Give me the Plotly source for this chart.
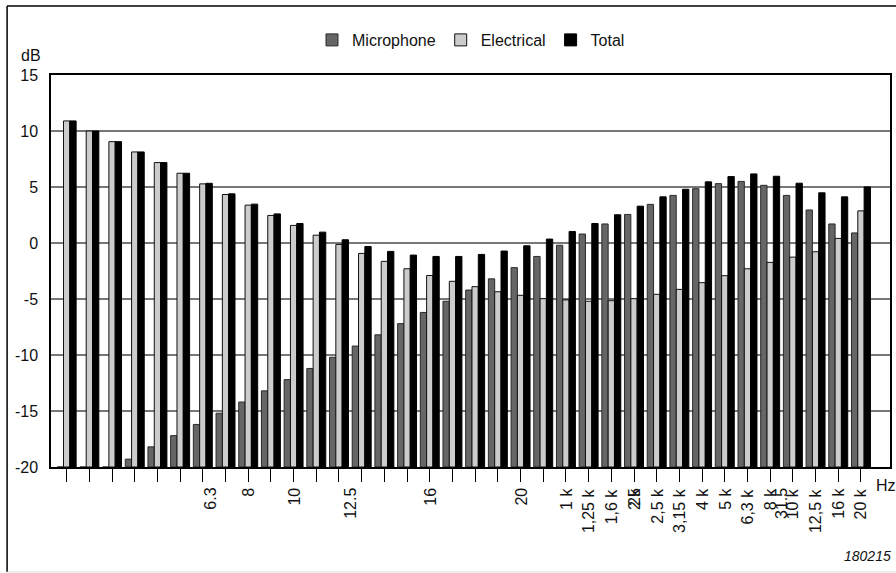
import plotly.graph_objects as go

freq_labels = ["6.3", "8", "10", "12.5", "16", "20", "25", "31.5", "40", "50", "63", "80",
               "100", "125", "160", "200", "250", "315", "400", "500", "630", "800",
               "1 k", "1,25 k", "1,6 k", "2 k", "2,5 k", "3,15 k", "4 k", "5 k", "6,3 k",
               "8 k", "10 k", "12,5 k", "16 k", "20 k"]

microphone = [-20, -20, -20, -19.3, -18.2, -17.2, -16.2, -15.2, -14.2, -13.2, -12.2, -11.2,
              -10.2, -9.2, -8.2, -7.2, -6.2, -5.2, -4.2, -3.2, -2.2, -1.2,
              -0.2, 0.8, 1.7, 2.55, 3.45, 4.25, 4.85, 5.3, 5.5,
              5.15, 4.25, 2.95, 1.7, 0.9]

electrical = [10.9, 10.0, 9.05, 8.13, 7.18, 6.23, 5.28, 4.33, 3.38, 2.46, 1.57, 0.7,
              -0.13, -0.93, -1.64, -2.3, -2.9, -3.42, -3.9, -4.35, -4.67, -4.97,
              -5.08, -5.2, -5.15, -4.97, -4.58, -4.14, -3.54, -2.92, -2.3,
              -1.73, -1.26, -0.78, 0.41, 2.87]

total = [10.9, 10.0, 9.05, 8.13, 7.18, 6.23, 5.33, 4.39, 3.47, 2.6, 1.74, 0.97,
         0.29, -0.31, -0.75, -1.08, -1.2, -1.2, -1.02, -0.72, -0.25, 0.35,
         1.03, 1.74, 2.52, 3.29, 4.12, 4.8, 5.46, 5.93, 6.17,
         5.96, 5.34, 4.48, 4.12, 5.01]

y_floor = -20
y_top = 15
y_ticks = [15, 10, 5, 0, -5, -10, -15, -20]

FONT = "Arial, Liberation Sans, sans-serif"

series = [
    ("Microphone", microphone, "#666666", "#2a2a2a"),
    ("Electrical", electrical, "#cccccc", "#111111"),
    ("Total", total, "#000000", "#000000"),
]

fig = go.Figure()
for name, vals, fill, edge in series:
    fig.add_trace(go.Bar(
        name=name,
        x=freq_labels,
        y=[v - y_floor for v in vals],
        base=y_floor,
        marker=dict(color=fill, line=dict(color=edge, width=1)),
        hovertext=[f"{v} dB" for v in vals],
    ))

W, H = 896, 573
L, R, T, B = 51, 4, 75, 106
pw, ph = W - L - R, H - T - B

def px_x(x):
    return (x - L) / pw

def px_y(y):
    return (H - B - y) / ph

# x tick labels, placed on the category axis, top end aligned just below the ticks
tick_label_annotations = [
    dict(text=lab, xref="x", x=lab, yref="paper", y=px_y(487), xanchor="center", yanchor="top",
         textangle=-90, showarrow=False, font=dict(size=16), borderpad=0)
    for lab in freq_labels
]

fig.update_layout(
    width=W, height=H,
    margin=dict(l=L, r=R, t=T, b=B, pad=0),
    paper_bgcolor="white", plot_bgcolor="white",
    barmode="group", bargap=0.165, bargroupgap=0,
    font=dict(family=FONT, size=16, color="#111111"),
    legend=dict(orientation="h", x=px_x(472), xanchor="center", y=px_y(40), yanchor="middle",
                font=dict(size=16), itemwidth=30, traceorder="normal", bgcolor="rgba(0,0,0,0)"),
    xaxis=dict(
        type="category", categoryorder="array", categoryarray=freq_labels,
        range=[-0.69, 36.28],
        showline=True, linecolor="#000000", linewidth=1.5, mirror=True,
        ticks="outside", ticklen=13, tickwidth=1, tickcolor="#000000",
        showticklabels=False, showgrid=False,
    ),
    yaxis=dict(
        range=[y_floor, y_top], tickvals=y_ticks, ticktext=[str(v) for v in y_ticks],
        showline=True, linecolor="#000000", linewidth=1.5, mirror=True,
        showgrid=True, gridcolor="#777777", gridwidth=1.5,
        zeroline=False, ticks="", tickfont=dict(size=16), ticklabelstandoff=8,
    ),
    shapes=[
        dict(type="line", xref="paper", yref="paper", x0=px_x(7), x1=px_x(7), y0=px_y(6), y1=px_y(572),
             line=dict(color="#000000", width=1.5)),
        dict(type="line", xref="paper", yref="paper", x0=px_x(7), x1=px_x(900), y0=px_y(6), y1=px_y(6),
             line=dict(color="#000000", width=1.5)),
        dict(type="line", xref="paper", yref="paper", x0=px_x(7), x1=px_x(900), y0=px_y(572), y1=px_y(572),
             line=dict(color="#dddddd", width=1)),
    ],
    annotations=tick_label_annotations + [
        dict(text="dB", xref="paper", yref="paper", x=px_x(19), y=px_y(55), xanchor="left", yanchor="middle",
             showarrow=False, font=dict(size=16)),
        dict(text="Hz", xref="paper", yref="paper", x=px_x(876), y=px_y(485), xanchor="left", yanchor="middle",
             showarrow=False, font=dict(size=16)),
        dict(text="<i>180215</i>", xref="paper", yref="paper", x=px_x(895), y=px_y(556), xanchor="right",
             yanchor="middle", showarrow=False, font=dict(size=14)),
    ],
)

fig.write_html("out.html", config=dict(displayModeBar=False),
               post_script="document.body.style.margin='0';document.body.style.overflow='hidden';")
